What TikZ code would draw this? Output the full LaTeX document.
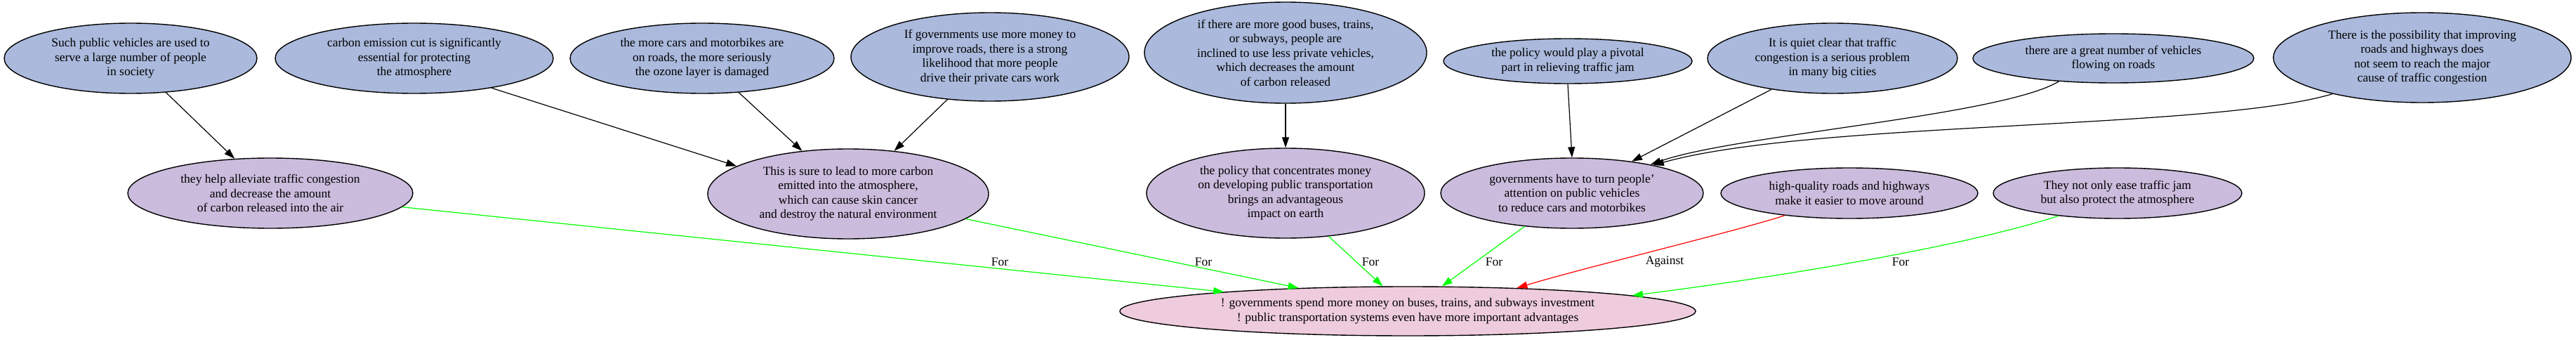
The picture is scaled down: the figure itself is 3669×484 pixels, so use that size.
\documentclass[tikz,border=0pt]{standalone}
\usepackage{fontspec}
\setmainfont{Liberation Serif}
\usetikzlibrary{arrows.meta,shapes.geometric}
\definecolor{topfill}{HTML}{AAB9DC}
\definecolor{midfill}{HTML}{CBBCDD}
\definecolor{botfill}{HTML}{EECCDD}
\definecolor{forgreen}{HTML}{00FF00}
\definecolor{againstred}{HTML}{FF0000}
\begin{document}
\begin{tikzpicture}[x=1pt,y=-1pt,
  every node/.style={font=\fontsize{17.5}{20.5}\selectfont},
  base/.style={ellipse, draw=black, line width=1.4pt, align=center, inner sep=0pt},
  topnode/.style={base, fill=topfill},
  midnode/.style={base, fill=midfill},
  botnode/.style={base, fill=botfill},
  supedge/.style={-{Triangle[length=15pt,width=10pt]}, line width=1.2pt, draw=black},
  proedge/.style={-{Triangle[length=15pt,width=10pt]}, line width=1.2pt, draw=forgreen},
  conedge/.style={-{Triangle[length=15pt,width=10pt]}, line width=1.2pt, draw=againstred},
  lbl/.style={inner sep=0pt}
]
\useasboundingbox (0,0) rectangle (3669,484);

% top row
\node[topnode, minimum width=360pt, minimum height=100pt] (t1) at (186,83)
  {Such public vehicles are used to\\serve a large number of people\\in society};
\node[topnode, minimum width=396pt, minimum height=100pt] (t2) at (590,83)
  {carbon emission cut is significantly\\essential for protecting\\the atmosphere};
\node[topnode, minimum width=376pt, minimum height=100pt] (t3) at (1000,83)
  {the more cars and motorbikes are\\on roads, the more seriously\\the ozone layer is damaged};
\node[topnode, minimum width=396pt, minimum height=126pt] (t4) at (1410,81)
  {If governments use more money to\\improve roads, there is a strong\\likelihood that more people\\drive their private cars work};
\node[topnode, minimum width=402pt, minimum height=144pt] (t5) at (1831,75)
  {if there are more good buses, trains,\\or subways, people are\\inclined to use less private vehicles,\\which decreases the amount\\of carbon released};
\node[topnode, minimum width=354pt, minimum height=64pt] (t6) at (2233,87)
  {the policy would play a pivotal\\part in relieving traffic jam};
\node[topnode, minimum width=356pt, minimum height=100pt] (t7) at (2610,83)
  {It is quiet clear that traffic\\congestion is a serious problem\\in many big cities};
\node[topnode, minimum width=400pt, minimum height=70pt] (t8) at (3010,83)
  {there are a great number of vehicles\\flowing on roads};
\node[topnode, minimum width=424pt, minimum height=128pt] (t9) at (3450,82)
  {There is the possibility that improving\\roads and highways does\\not seem to reach the major\\cause of traffic congestion};

% middle row
\node[midnode, minimum width=406pt, minimum height=100pt] (a) at (385,275)
  {they help alleviate traffic congestion\\and decrease the amount\\of carbon released into the air};
\node[midnode, minimum width=400pt, minimum height=128pt] (b) at (1208,276)
  {This is sure to lead to more carbon\\emitted into the atmosphere,\\which can cause skin cancer\\and destroy the natural environment};
\node[midnode, minimum width=396pt, minimum height=128pt] (c) at (1831,275)
  {the policy that concentrates money\\on developing public transportation\\brings an advantageous\\impact on earth};
\node[midnode, minimum width=374pt, minimum height=100pt] (d) at (2239,275)
  {governments have to turn people'\\attention on public vehicles\\to reduce cars and motorbikes};
\node[midnode, minimum width=366pt, minimum height=72pt] (e) at (2634,275)
  {high-quality roads and highways\\make it easier to move around};
\node[midnode, minimum width=354pt, minimum height=72pt] (f) at (3016,275)
  {They not only ease traffic jam\\but also protect the atmosphere};

% bottom
\node[botnode, minimum width=820pt, minimum height=70pt] (g) at (2005,443)
  {! governments spend more money on buses, trains, and subways investment\\! public transportation systems even have more important advantages};

% support edges
\draw[supedge] (t1.316) -- (a.136);
\draw[supedge] (t2.339) -- (b.166);
\draw[supedge] (t3.317) -- (b.137);
\draw[supedge] (t4.225) -- (b.43);
\draw[supedge] (t5.south) -- (c.north);
\draw[supedge] (t6.south) -- (d.north);
\draw[supedge] (t7.207) -- (d.28);
\draw[supedge] (t8.203) .. controls (2850,165) and (2470,192) .. (d.20);
\draw[supedge] (t9.202) .. controls (3150,185) and (2580,172) .. (d.19);

% for / against edges
\draw[proedge] (a.354) -- (g.174);
\draw[proedge] (b.348) -- (g.168);
\draw[proedge] (c.315) -- (g.135);
\draw[proedge] (d.215) -- (g.36);
\draw[conedge] (e.199) .. controls (2470,330) and (2260,380) .. (g.12);
\draw[proedge] (f.201) .. controls (2800,350) and (2550,392) .. (g.4);

% labels
\node[lbl] (l1) at (1424,373) {For};
\node[lbl] (l2) at (1714,373) {For};
\node[lbl] (l3) at (1952,373) {For};
\node[lbl] (l4) at (2128,373) {For};
\node[lbl] (l5) at (2371,373) {Against};
\node[lbl] (l6) at (2707,373) {For};
\end{tikzpicture}
\end{document}
